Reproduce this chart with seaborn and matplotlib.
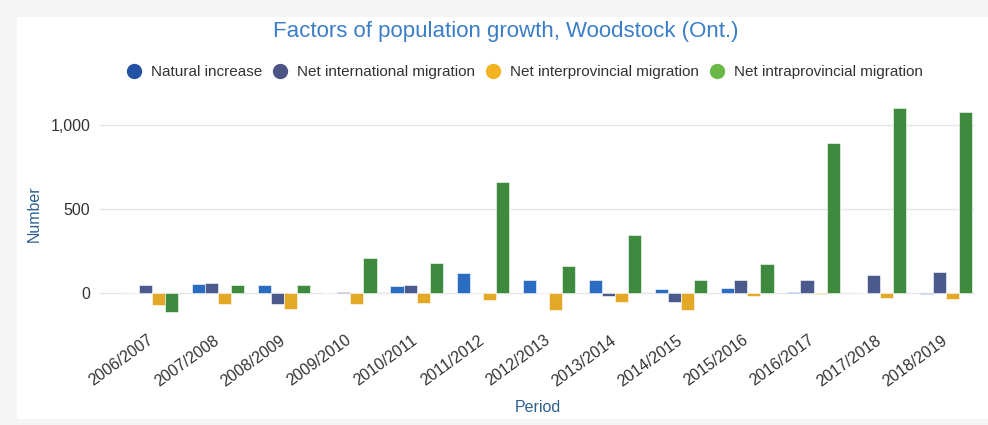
import matplotlib
matplotlib.use("Agg")
import matplotlib.pyplot as plt
import matplotlib.transforms as mtransforms
import seaborn as sns
import pandas as pd
from matplotlib.patches import Rectangle
from matplotlib.lines import Line2D
from matplotlib.ticker import FuncFormatter

periods = ["2006/2007", "2007/2008", "2008/2009", "2009/2010", "2010/2011", "2011/2012",
           "2012/2013", "2013/2014", "2014/2015", "2015/2016", "2016/2017", "2017/2018", "2018/2019"]
natural_increase = [0, 58, 52, 4, 42, 121, 81, 81, 26, 34, 10, 4, -4]
net_international = [48, 64, -65, 10, 52, 3, 5, -14, -50, 77, 81, 111, 129]
net_interprovincial = [-70, -61, -95, -61, -58, -38, -97, -54, -101, -14, -5, -30, -34]
net_intraprovincial = [-108, 52, 48, 208, 179, 661, 161, 345, 81, 176, 893, 1100, 1077]

series_names = ["Natural increase", "Net international migration",
                "Net interprovincial migration", "Net intraprovincial migration"]
bar_colors = ["#2a6cc2", "#4a5a8c", "#e3a825", "#3e8a3e"]
legend_colors = ["#2351a3", "#4a5585", "#f2b320", "#6ab847"]

rows = []
for name, vals in zip(series_names, [natural_increase, net_international,
                                     net_interprovincial, net_intraprovincial]):
    for p, v in zip(periods, vals):
        rows.append({"Period": p, "Series": name, "Number": v})
df = pd.DataFrame(rows)

sns.set_style("white")
plt.rcParams["font.family"] = ["Liberation Sans", "DejaVu Sans"]

fig = plt.figure(figsize=(9.88, 4.25), dpi=100)
fig.patch.set_facecolor("white")
# outer light frame
fig.patches.append(Rectangle((0, 0), 1, 1, transform=fig.transFigure,
                             facecolor="#f5f5f5", edgecolor="none", zorder=-3))
fig.patches.append(Rectangle((17 / 988, 6 / 425), 1, 1 - 6 / 425 - 17 / 425,
                             transform=fig.transFigure, facecolor="white",
                             edgecolor="none", zorder=-2))

ax = fig.add_axes([100 / 988, 1 - 327 / 425, 875 / 988, (327 - 100) / 425])
sns.barplot(data=df, x="Period", y="Number", hue="Series", palette=bar_colors,
            hue_order=series_names, order=periods, width=0.79, ax=ax, saturation=1,
            edgecolor="white", linewidth=0.4, legend=False, errorbar=None)

ax.set_xlim(-0.785, 12.44)
ax.set_ylim(-200, 1150)
ax.set_yticks([0, 500, 1000])
ax.yaxis.set_major_formatter(FuncFormatter(lambda v, p: f"{int(v):,}"))
ax.grid(axis="y", color="#e6e6e6", linewidth=1)
ax.set_axisbelow(True)
for s in ax.spines.values():
    s.set_visible(False)
ax.tick_params(axis="both", length=0, labelsize=11.5, colors="#333333")
ax.tick_params(axis="y", pad=7)
ax.tick_params(axis="x", pad=4)
offset = mtransforms.ScaledTranslation(-5 / 100, 0, fig.dpi_scale_trans)
for lbl in ax.get_xticklabels():
    lbl.set_rotation(36)
    lbl.set_ha("right")
    lbl.set_rotation_mode("anchor")
    lbl.set_transform(lbl.get_transform() + offset)
ax.set_xlabel("Period", fontsize=11.5, color="#2e5f8f", labelpad=8)
ax.set_ylabel("Number", fontsize=11.5, color="#2e5f8f", labelpad=6)

fig.text(0.512, 1 - 31 / 425, "Factors of population growth, Woodstock (Ont.)",
         ha="center", va="center", fontsize=16, color="#3b7dc8")

handles = [Line2D([0], [0], marker="o", linestyle="none", markersize=10,
                  markerfacecolor=c, markeredgecolor=c) for c in legend_colors]
fig.legend(handles, series_names, loc="center", bbox_to_anchor=(0.527, 1 - 72 / 425),
           ncol=4, frameon=False, fontsize=11, handletextpad=0.1, columnspacing=0.2,
           labelcolor="#333333")

fig.savefig("out.png", dpi=100)
